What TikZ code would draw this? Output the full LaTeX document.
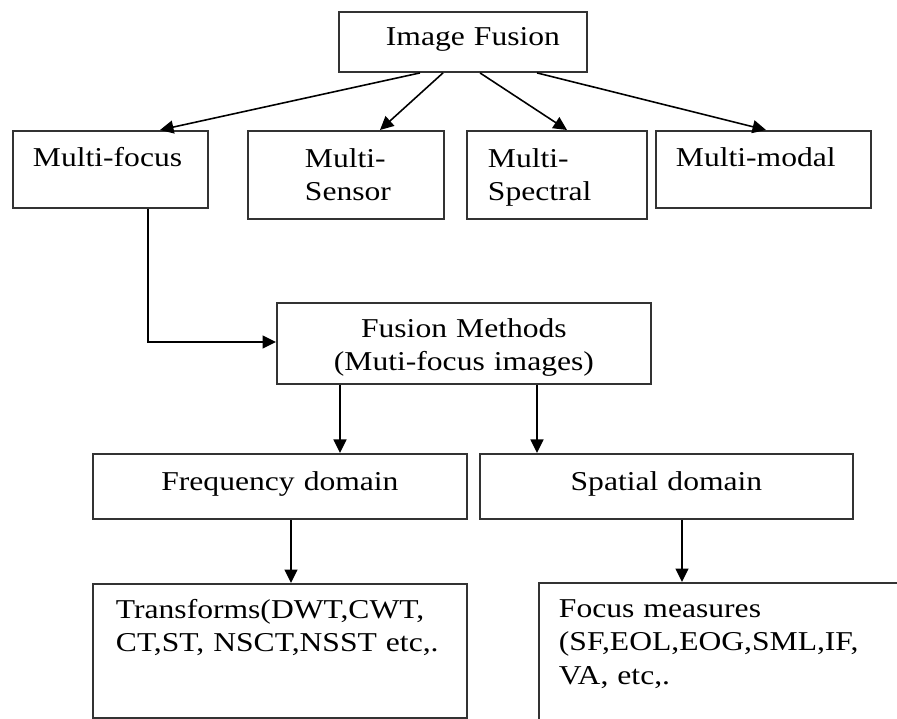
\documentclass[tikz,border=0pt]{standalone}
\usepackage{fontspec}
\setmainfont{Liberation Serif}[FakeStretch=1.16]
\usepackage{tikz}
\usetikzlibrary{arrows.meta}
\usetikzlibrary{calc}

\newcommand{\boxfont}{\fontsize{15.5pt}{18.8pt}\selectfont}

\begin{document}
\begin{tikzpicture}[x=0.02cm,y=-0.02cm,
            ibox/.style={draw=black!80,line width=1.1pt,anchor=north west,inner sep=0pt,font=\boxfont},
            pad/.style={align=left,execute at begin node={\leftskip=#1\relax}},
            arr/.style={line width=0.9pt,-{Triangle[length=0.27cm,width=0.26cm]}}]
            \useasboundingbox (0,0) rectangle (897,719);
            \clip (0,0) rectangle (897,719);
            % top level
            \node[ibox,pad=0.94cm,text width=4.96cm,text height=0.68cm,text depth=0.52cm] (fusion) at (338,11) {Image Fusion};
            \node[ibox,pad=0.4cm,text width=3.9cm,text height=0.72cm,text depth=0.82cm] (mfocus) at (12,130) {Multi-focus};
            \node[ibox,pad=1.14cm,text width=3.92cm,text height=0.74cm,text depth=1.02cm] (msensor) at (247,130) {Multi-\\Sensor};
            \node[ibox,pad=0.42cm,text width=3.6cm,text height=0.74cm,text depth=1.02cm] (mspectral) at (466,130) {Multi-\\Spectral};
            \node[ibox,pad=0.4cm,text width=4.3cm,text height=0.72cm,text depth=0.82cm] (mmodal) at (655,130) {Multi-modal};
            \draw[arr] ($(fusion.south west)+(82,0)$)--($(mfocus.north west)+(148,0)$);
            \draw[arr] ($(fusion.south west)+(105,0)$)--($(msensor.north west)+(133,0)$);
            \draw[arr] ($(fusion.south west)+(142,0)$)--($(mspectral.north west)+(101,0)$);
            \draw[arr] ($(fusion.south west)+(199,0)$)--($(mmodal.north west)+(111,0)$);
            % methods
            \node[ibox,align=center,text width=7.48cm,text height=0.70cm,text depth=0.92cm] (methods) at (276,302) {Fusion Methods\\(Muti-focus images)};
            \draw[arr] ($(mfocus.south west)+(136,0)$) |- ($(methods.north west)+(0,40)$);
            \node[ibox,align=center,text width=7.48cm,text height=0.74cm,text depth=0.56cm] (freq) at (92,453) {Frequency domain};
            \node[ibox,align=center,text width=7.46cm,text height=0.74cm,text depth=0.56cm] (spatial) at (479,453) {Spatial domain};
            \draw[arr] ($(methods.south west)+(64,0)$)--($(freq.north west)+(248,0)$);
            \draw[arr] ($(methods.south west)+(261,0)$)--($(spatial.north west)+(58,0)$);
            % bottom row
            \node[ibox,pad=0.46cm,text width=7.48cm,text height=0.70cm,text depth=1.98cm] (transforms) at (92,583) {Transforms(DWT,CWT,\\CT,ST, NSCT,NSST etc,.};
            \node[ibox,pad=0.4cm,text width=8.24cm,text height=0.70cm,text depth=3.26cm] (measures) at (538,582) {Focus measures\\(SF,EOL,EOG,SML,IF,\\VA, etc,.};
            \draw[arr] ($(freq.south west)+(199,0)$)--($(transforms.north west)+(199,0)$);
            \draw[arr] ($(spatial.south west)+(203,0)$)--($(measures.north west)+(144,0)$);
\end{tikzpicture}
\end{document}
